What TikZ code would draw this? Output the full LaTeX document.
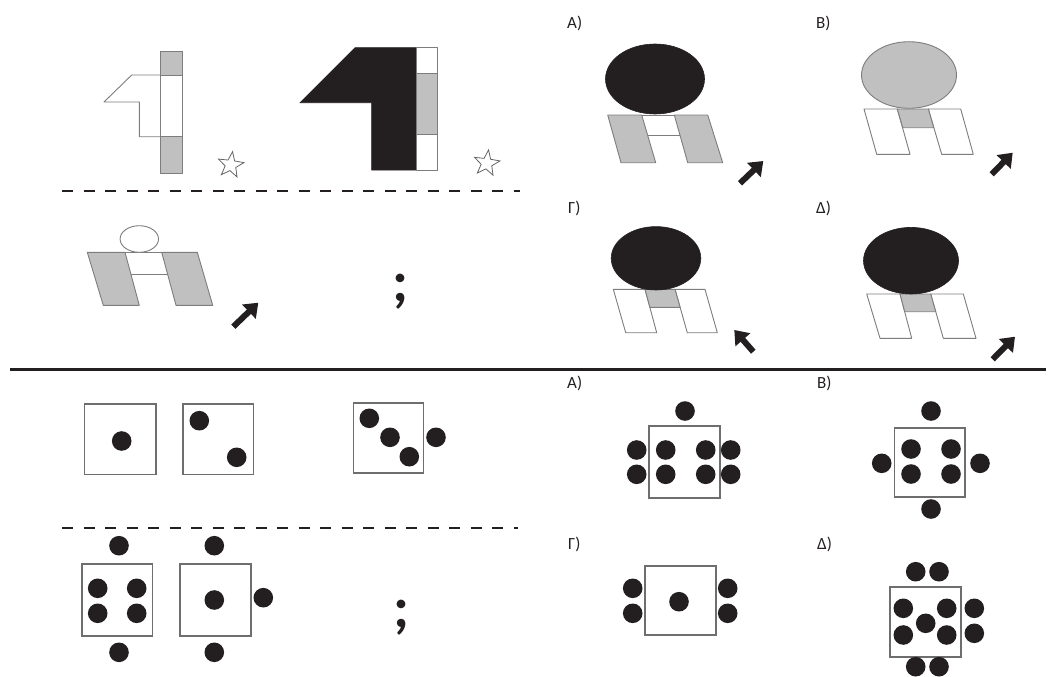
\documentclass[tikz,border=0pt]{standalone}
\usepackage{fontspec}
\setmainfont{Carlito}
\usetikzlibrary{arrows.meta,shapes.geometric}
\definecolor{edgegray}{RGB}{125,125,125}
\definecolor{boxgray}{RGB}{110,110,110}
\definecolor{fillgray}{RGB}{192,192,192}
\definecolor{inkblack}{RGB}{35,31,32}
\tikzset{
  outl/.style={draw=edgegray,line width=0.9pt,line join=round},
  grayshape/.style={outl,fill=fillgray},
  whiteshape/.style={outl,fill=white},
  blackshape/.style={draw=inkblack,fill=inkblack,line width=0.6pt},
  bigarrow/.style={draw=inkblack,line width=6pt,-{Triangle[length=13pt,width=19pt]}},
  dotc/.style={fill=inkblack},
  squarebox/.style={draw=boxgray,line width=1.6pt},
  divider/.style={draw=inkblack,line width=2pt,dash pattern=on 11pt off 10.5pt},
  optlabel/.style={font=\fontsize{17}{17}\selectfont,text=inkblack,anchor=base west,inner sep=0pt},
  qmark/.style={font=\fontsize{58}{58}\selectfont\bfseries,text=inkblack,anchor=base,inner sep=0pt},
  starmark/.style={star,star points=5,star point ratio=2.4,draw=edgegray!80!black,line width=0.8pt,minimum size=27pt,inner sep=0pt,rotate=-8}
}
\begin{document}
\begin{tikzpicture}[x=1pt,y=-1pt]
\useasboundingbox (0,0) rectangle (1049,677);

% ---------------- TOP HALF ----------------
% outline "1" shape with bar
\draw[outl] (160,75) -- (131.7,75) -- (104,102) -- (139.3,102) -- (139.3,136.7) -- (160,136.7);
\draw[grayshape] (160,51) rectangle (182.7,75);
\draw[whiteshape] (160,75) rectangle (182.7,136.7);
\draw[grayshape] (160,136.7) rectangle (182.7,173);
\node[starmark] (star1) at (230.7,165) {};

% black "1" shape with bar
\draw[blackshape] (355,47.7) -- (416,47.7) -- (416,170) -- (371.7,170) -- (371.7,102.7) -- (300,102.7) -- cycle;
\draw[whiteshape] (416,47.7) rectangle (437.3,73.3);
\draw[grayshape] (416,73.3) rectangle (437.3,134);
\draw[whiteshape] (416,134) rectangle (437.3,170);
\node[starmark] (star2) at (486.7,163.3) {};

% dashed divider top
\coordinate (d1a) at (62,191);
\coordinate (d1b) at (520,191);
\draw[divider] (d1a) -- (d1b);

% question satellite
\draw[grayshape] (87.3,252.3) -- (125,252.3) -- (139.3,305.3) -- (103.3,305.3) -- cycle;
\draw[grayshape] (161.7,252.3) -- (197.3,252.3) -- (212.7,305.3) -- (176,305.3) -- cycle;
\draw[outl] (125,252.3) -- (161.7,252.3);
\draw[outl] (130.9,274) -- (167.5,274);
\draw[whiteshape] (139.3,239) ellipse [x radius=19.2, y radius=13.3];
\coordinate (qa1) at (233.3,326.7);
\coordinate (qa2) at (258.3,302.7);
\draw[bigarrow] (qa1) -- (qa2);

\node[qmark] (q1) at (400,301) {;};

% option A (top)
\node[optlabel] (la1) at (567,28.5) {A)};
\draw[grayshape] (607.7,115) -- (641.7,115) -- (655.7,162.7) -- (621,162.7) -- cycle;
\draw[grayshape] (674.3,115) -- (707.7,115) -- (722.7,162.7) -- (687.7,162.7) -- cycle;
\draw[outl] (641.7,115) -- (674.3,115);
\draw[outl] (647.6,135) -- (679.9,135);
\draw[blackshape] (655,79) ellipse [x radius=49.5, y radius=35];
\coordinate (aa1) at (740,183.3);
\coordinate (aa2) at (763.3,161);
\draw[bigarrow] (aa1) -- (aa2);

% option B (top)
\node[optlabel] (lb1) at (816,28.5) {B)};
\draw[whiteshape] (864,109) -- (897.3,109) -- (910,154.3) -- (876.7,154.3) -- cycle;
\draw[whiteshape] (928.3,109) -- (960.7,109) -- (973.3,154.3) -- (941.7,154.3) -- cycle;
\draw[grayshape] (897.3,109) -- (928.3,109) -- (933.8,127.7) -- (902.8,127.7) -- cycle;
\draw[grayshape] (909,75) ellipse [x radius=47.5, y radius=33.3];
\coordinate (ba1) at (991.7,174.3);
\coordinate (ba2) at (1012.7,152.7);
\draw[bigarrow] (ba1) -- (ba2);

% option Gamma (top)
\node[optlabel] (lg1) at (568,213) {Γ)};
\draw[whiteshape] (613.3,289.3) -- (645,289.3) -- (656.7,332.7) -- (625.7,332.7) -- cycle;
\draw[whiteshape] (675,289.3) -- (705,289.3) -- (717.3,332.7) -- (687.3,332.7) -- cycle;
\draw[grayshape] (645,289.3) -- (675,289.3) -- (680.1,307.3) -- (649.9,307.3) -- cycle;
\draw[blackshape] (656,258.3) ellipse [x radius=44.8, y radius=31.7];
\coordinate (ga1) at (753.3,351.7);
\coordinate (ga2) at (734.3,330);
\draw[bigarrow] (ga1) -- (ga2);

% option Delta (top)
\node[optlabel] (ld1) at (816,213) {Δ)};
\draw[whiteshape] (866.7,294) -- (900,294) -- (911.7,338.3) -- (880,338.3) -- cycle;
\draw[whiteshape] (930.7,294) -- (963.3,294) -- (976,338.3) -- (943.3,338.3) -- cycle;
\draw[grayshape] (900,294) -- (930.7,294) -- (935.7,311.7) -- (904.7,311.7) -- cycle;
\draw[blackshape] (911,260.7) ellipse [x radius=47.5, y radius=33.3];
\coordinate (da1) at (992.7,359.3);
\coordinate (da2) at (1015,336.7);
\draw[bigarrow] (da1) -- (da2);

% solid separator
\coordinate (sa) at (10,369);
\coordinate (sb) at (1046,369);
\draw[draw=inkblack,line width=3pt] (sa) -- (sb);

% ---------------- BOTTOM HALF ----------------
\def\dr{9.8}
% box 1
\draw[squarebox] (84.3,404) rectangle (155.7,474.3);
\fill[dotc] (121.7,441) circle (\dr);
% box 2
\draw[squarebox] (182.7,404) rectangle (253.3,474.3);
\fill[dotc] (199.3,420.7) circle (\dr) (236.7,457.3) circle (\dr);
% box 3
\draw[squarebox] (353.3,402.7) rectangle (423.3,472.7);
\fill[dotc] (369.3,418.3) circle (\dr) (390,437.3) circle (\dr) (409.3,456.7) circle (\dr) (436,437.3) circle (\dr);

% dashed divider bottom
\coordinate (d2a) at (62,527.5);
\coordinate (d2b) at (518,527.5);
\draw[divider] (d2a) -- (d2b);

% box 4
\draw[squarebox] (81.7,564) rectangle (152.3,635.7);
\fill[dotc] (119,545.7) circle (\dr) (97.7,588.3) circle (\dr) (136.7,588.3) circle (\dr)
  (97.7,613.3) circle (\dr) (136.7,613.3) circle (\dr) (119,652.3) circle (\dr);
% box 5
\draw[squarebox] (180,564) rectangle (250.7,635.7);
\fill[dotc] (214.3,545.7) circle (\dr) (214.3,600) circle (\dr) (263.3,597.7) circle (\dr) (214.3,652.3) circle (\dr);

\node[qmark] (q2) at (401,627) {;};

% option A (bottom)
\node[optlabel] (la2) at (567,388.5) {A)};
\draw[squarebox] (649,425.7) rectangle (720,497.7);
\fill[dotc] (685,411) circle (\dr)
  (636.7,450) circle (\dr) (665.7,450) circle (\dr) (705.7,450) circle (\dr) (730.7,450) circle (\dr)
  (636.7,474.3) circle (\dr) (665.7,474.3) circle (\dr) (705.7,474.3) circle (\dr) (730.7,474.3) circle (\dr);

% option B (bottom)
\node[optlabel] (lb2) at (817,388.5) {B)};
\draw[squarebox] (894.3,427.7) rectangle (965,496.7);
\fill[dotc] (931,411) circle (\dr) (931,509) circle (\dr) (881.7,463.3) circle (\dr) (980,463.3) circle (\dr)
  (911,449) circle (\dr) (951,449) circle (\dr) (911,474) circle (\dr) (951,474) circle (\dr);

% option Gamma (bottom)
\node[optlabel] (lg2) at (568,549) {Γ)};
\draw[squarebox] (645,565.7) rectangle (715.7,635);
\fill[dotc] (632.7,588.3) circle (\dr) (632.7,613.3) circle (\dr) (727.7,588.3) circle (\dr) (727.7,613.3) circle (\dr)
  (679,601.7) circle (\dr);

% option Delta (bottom)
\node[optlabel] (ld2) at (817,549) {Δ)};
\draw[squarebox] (890,586.7) rectangle (960.7,656.7);
\fill[dotc] (915.7,571.7) circle (\dr) (939,571.7) circle (\dr) (915.7,666.7) circle (\dr) (939,666.7) circle (\dr)
  (974.3,608.3) circle (\dr) (974.3,633.3) circle (\dr)
  (903.3,608.3) circle (\dr) (946.7,608.3) circle (\dr) (903.3,635) circle (\dr) (946.7,635) circle (\dr)
  (925.7,623.3) circle (\dr);
\end{tikzpicture}
\end{document}
